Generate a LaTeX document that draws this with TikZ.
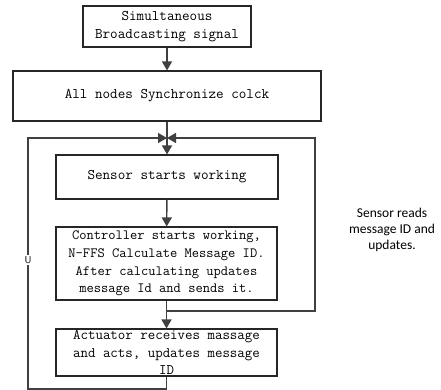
\documentclass[tikz,border=0pt]{standalone}
\usepackage{fontspec}
\newfontfamily\notefont{Carlito}
\usetikzlibrary{arrows.meta}
\definecolor{lc}{HTML}{404040}
\tikzset{
  box/.style={draw=black!85, line width=1.1pt, rectangle, inner sep=0pt, align=center,
    font=\fontsize{14.7}{17.5}\selectfont\ttfamily},
  conn/.style={draw=lc, line width=1.4pt},
  arr/.style={conn, -{Triangle[length=9pt,width=10pt]}},
}
\begin{document}
\begin{tikzpicture}[x=1pt,y=-1pt]
\useasboundingbox (0,0) rectangle (441,390);
\node[box, minimum width=168pt, minimum height=41pt] (b1) at (167,26.5) {Simultaneous\\Broadcasting signal};
\node[box, minimum width=308pt, minimum height=50pt] (b2) at (167,96) {All nodes Synchronize colck};
\node[box, minimum width=222pt, minimum height=44pt] (b3) at (167,177) {Sensor starts working};
\node[box, minimum width=221pt, minimum height=73pt, font=\fontsize{14.1}{17.8}\selectfont\ttfamily] (b4) at (166.5,263.5) {Controller starts working,\\N-FFS Calculate Message ID.\\After calculating updates\\message Id and sends it.};
\node[box, minimum width=221pt, minimum height=47pt, font=\fontsize{14.5}{17.5}\selectfont\ttfamily] (b5) at (166.5,352.5) {Actuator receives massage\\and acts, updates message\\ID};
\coordinate (J) at (167,138);
\coordinate (L) at (28,389);
\coordinate (C) at (167,311);
\coordinate (R) at (315,138);
\draw[arr] (b1) -- (b2);
\draw[arr] (b2) -- (b3);
\draw[arr] (b3) -- (b4);
\draw[arr] (b4) -- (b5);
\draw[arr] (b5.south) |- (L) |- (J);
\draw[arr] (C) -| (R) -- (J);
\node[fill=white, inner sep=1pt, font=\fontsize{10}{12}\selectfont\sffamily] (u) at (28,260) {U};
\node[align=center, font=\fontsize{13.5}{16}\selectfont\notefont] (note) at (392,230) {Sensor reads\\message ID and\\updates.};
\end{tikzpicture}
\end{document}
